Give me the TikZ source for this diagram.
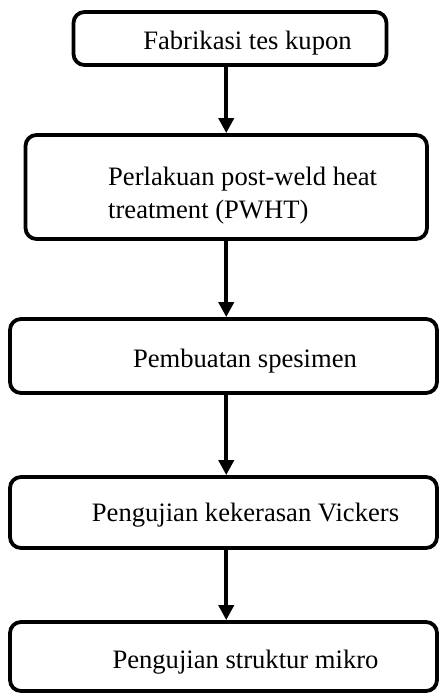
\documentclass[tikz,border=0pt]{standalone}
\usepackage{fontspec}
\setmainfont{Liberation Serif}
\usetikzlibrary{arrows.meta}

\tikzset{
    stepbox/.style={draw, rounded corners=11pt, line width=3.8pt, inner sep=0pt},
    steptext/.style={inner sep=0pt, font=\fontsize{26.6}{33}\selectfont},
    flow/.style={line width=3.8pt, -{Triangle[length=15pt,width=15pt]}}
}

\begin{document}
\begin{tikzpicture}[x=1pt, y=-1pt]
    \useasboundingbox (0,0) rectangle (439,695);

    % Boxes
    \node[stepbox, minimum width=313pt, minimum height=53pt] (fab) at (230,38.5) {};
    \node[stepbox, minimum width=401.5pt, minimum height=104pt] (pwht) at (226.25,187) {};
    \node[stepbox, minimum width=427pt, minimum height=74pt] (spes) at (223.5,356) {};
    \node[stepbox, minimum width=427pt, minimum height=71pt] (vick) at (223.5,512.5) {};
    \node[stepbox, minimum width=427pt, minimum height=69pt] (mikro) at (223.5,656.5) {};

    % Texts
    \node[steptext, anchor=base] (fabtext) at (247.5,50) {Fabrikasi tes kupon};
    \node[steptext, anchor=west, align=left] (pwhttext) at (108,196) {Perlakuan post-weld heat\\ treatment (PWHT)};
    \node[steptext, anchor=base] (spestext) at (245,367) {Pembuatan spesimen};
    \node[steptext, anchor=base] (vicktext) at (245.5,521.5) {Pengujian kekerasan Vickers};
    \node[steptext, anchor=base] (mikrotext) at (245.5,668) {Pengujian struktur mikro};

    % Arrows
    \draw[flow] (fab.south -| pwht.north) -- (pwht.north);
    \draw[flow] (pwht.south) -- (pwht.south |- spes.north);
    \draw[flow] (pwht.south |- spes.south) -- (pwht.south |- vick.north);
    \draw[flow] (pwht.south |- vick.south) -- (pwht.south |- mikro.north);
\end{tikzpicture}
\end{document}
